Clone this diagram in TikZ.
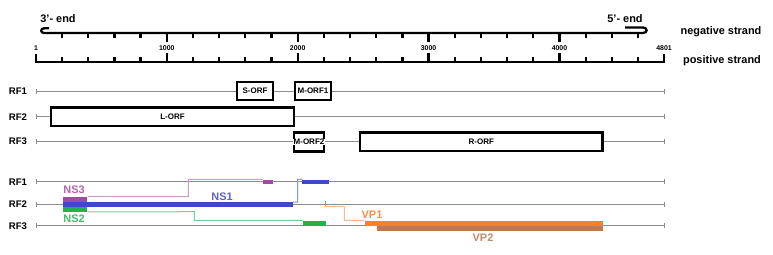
\documentclass[tikz,border=0pt]{standalone}
\usepackage{fontspec}
\setmainfont{Liberation Sans}
\usetikzlibrary{fit}
\definecolor{cpur}{HTML}{A349A4}
\definecolor{cblu}{HTML}{3F48CC}
\definecolor{cgrn}{HTML}{22B14C}
\definecolor{corg}{HTML}{FF7F27}
\definecolor{cbrn}{HTML}{B97A57}
\definecolor{cgry}{HTML}{8C8C8C}
\begin{document}
\begin{tikzpicture}[x=0.75pt,y=-0.75pt,
  ruler/.style={line width=1.7pt},
  rfline/.style={cgry,line width=0.75pt},
  orfbox/.style={draw,line width=1.9pt,fill=white,inner sep=0pt,font=\fontsize{6}{7}\selectfont\bfseries},
  bar/.style={inner sep=0pt,draw=none},
  conn/.style={line width=0.75pt},
  lab/.style={font=\fontsize{8.2}{9}\selectfont\bfseries},
  rflab/.style={font=\fontsize{7.2}{8}\selectfont\bfseries},
  ticklab/.style={font=\fontsize{5.2}{6}\selectfont\bfseries,inner sep=0pt}]
\useasboundingbox (0,0) rectangle (773,254);

% ---------- rulers ----------
\draw[ruler] (36,54) -- (36,62) -- (664,62) -- (664,54);
\foreach \p in {200,400,600,800,1200,1400,1600,1800,2200,2400,2600,2800,3200,3400,3600,3800,4200,4400,4600}{
  \draw[ruler] ({36+(\p-1)*0.1309},62) -- ++(0,-5);
  \draw[ruler] ({36+(\p-1)*0.1309},33) -- ++(0,5);
}
\foreach \p in {1000,2000,3000,4000}{
  \draw[ruler] ({36+(\p-1)*0.1309},62) -- ++(0,-9);
  \draw[ruler] ({36+(\p-1)*0.1309},33) -- ++(0,9);
  \node[ticklab] at ({36+(\p-1)*0.1309},48) {\p};
}
\node[ticklab] at (36,48) {1};
\node[ticklab] at (664,48) {4801};
\draw[ruler] (49,28.3) -- (44,28.3) .. controls (40.3,28.3) and (40.3,33) .. (44,33)
  -- (643,33) .. controls (647.8,33) and (647.8,27.5) .. (643,27.5) -- (625,27.5);
\node[lab] (e3) at (58,19) {3\char"0027- end};
\node[lab] (e5) at (625,19) {5\char"0027- end};
\node[lab] (neg) at (721,32) {negative strand};
\node[lab] (pos) at (722,60.5) {positive strand};

% ---------- reading frame lines ----------
\foreach \y/\t in {91/RF1,116.7/RF2,141.6/RF3,181.8/RF1,204.3/RF2,225.7/RF3}{
  \draw[rfline] (36,\y) -- (664,\y);
  \draw[rfline] (36,\y-2.5) -- (36,\y+2.5);
  \draw[rfline] (664,\y-2.5) -- (664,\y+2.5);
  \node[rflab] at (18,\y) {\t};
}

% ---------- ORF boxes ----------
\node[orfbox,minimum width=27pt,minimum height=13.5pt] (sorf) at (255,91) {S-ORF};
\node[orfbox,minimum width=27pt,minimum height=13.5pt] (morf1) at (313,91) {M-ORF1};
\node[orfbox,minimum width=182pt,minimum height=14pt] (lorf) at (172.5,116.7) {L-ORF};
\node[orfbox,minimum width=22.5pt,minimum height=14.5pt] (morf2) at (309,142) {};
\node[fill=white,inner sep=0.3pt,font=\fontsize{6}{7}\selectfont\bfseries] at (morf2) {M-ORF2};
\node[orfbox,minimum width=182pt,minimum height=14pt] (rorf) at (481.3,141.7) {R-ORF};

% ---------- protein bars ----------
\node[bar,fill=cpur,fit={(63.3,196.7)(87.3,201.7)}] (ns3) {};
\node[bar,fill=cblu,fit={(63.3,202.2)(292.7,206.7)}] (ns1) {};
\node[bar,fill=cgrn,fit={(63.3,206.7)(87.3,211.7)}] (ns2) {};
\node[bar,fill=cpur,fit={(263,179.6)(272.7,184.2)}] (ns3b) {};
\node[bar,fill=cblu,fit={(302.3,179.6)(328.7,184.2)}] (ns1b) {};
\node[bar,fill=cgrn,fit={(303.3,220.7)(325.7,225.7)}] (ns2b) {};
\node[bar,fill=corg,fit={(324.6,201.3)(326,206.3)}] (vp1s) {};
\node[bar,fill=corg,fit={(365,220.7)(603.3,225.7)}] (vp1) {};
\node[bar,fill=cbrn,fit={(376.7,225.7)(603.3,230.7)}] (vp2) {};

% ---------- splice connectors ----------
\draw[conn,cpur!55] (ns3.north east) -- (188.3,196.7) |- (ns3b.north west);
\draw[conn,cblu!60] (ns1.north east) -- (297.7,202.2) |- (ns1b.north west);
\draw[conn,cgrn!60] (ns2.south east) -- (194.3,211.7) |- (ns2b.north west);
\draw[conn,corg!55] (vp1s.south) -- (344.3,206.3) |- (vp1.north west);

% ---------- protein labels ----------
\node[lab,text=cpur!85] (lns3) at (74,190) {NS3};
\node[lab,text=cblu!85] (lns1) at (222,197) {NS1};
\node[lab,text=cgrn!85] (lns2) at (74,218.5) {NS2};
\node[lab,text=corg!90] (lvp1) at (372,215) {VP1};
\node[lab,text=cbrn!90] (lvp2) at (483,237.5) {VP2};
\end{tikzpicture}
\end{document}
